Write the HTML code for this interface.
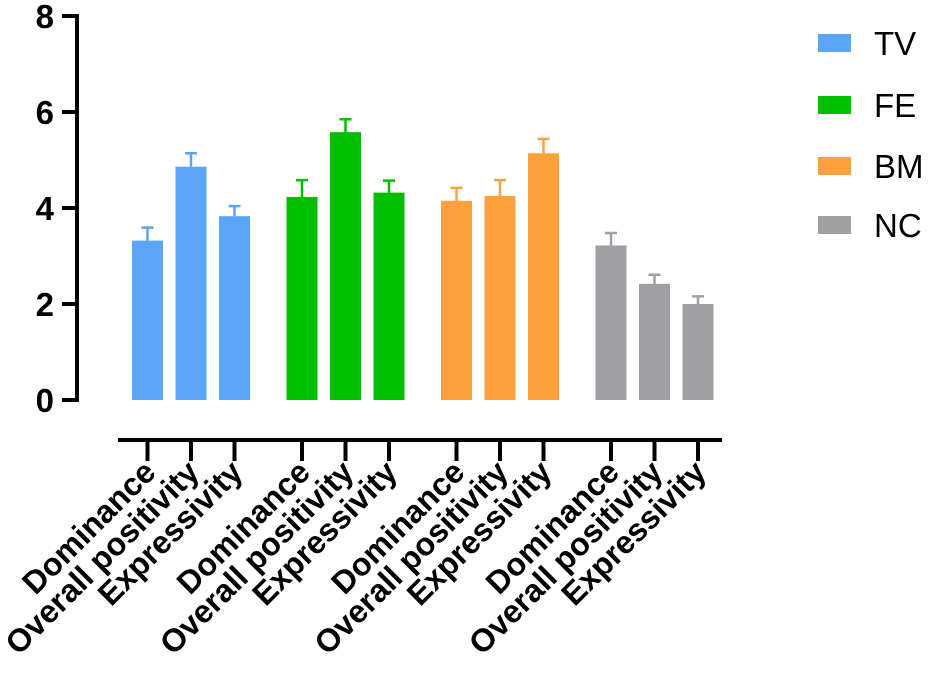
<!DOCTYPE html>
<html><head><meta charset="utf-8"><style>
body{margin:0;background:#fff;}
svg text{font-family:"Liberation Sans",Arial,sans-serif;font-weight:bold;}
</style></head><body>
<svg id="chart" width="945" height="674" xmlns="http://www.w3.org/2000/svg">
<g id="yaxis"></g>
<g id="bars"></g>
<g id="xaxis"></g>
<g id="legend"></g>
</svg>
<script>
const groups = ["TV","FE","BM","NC"];
const colors = ["#5aa5f8","#00bf00","#ffa03f","#a0a0a4"];
const measures = ["Dominance","Overall positivity","Expressivity"];
const means = [[3.32,4.86,3.83],[4.23,5.58,4.32],[4.15,4.25,5.14],[3.22,2.42,2.0]];
const errs = [[0.27,0.28,0.21],[0.35,0.27,0.25],[0.27,0.33,0.3],[0.26,0.19,0.16]];
const yTicks = [0,2,4,6,8];
const NS="http://www.w3.org/2000/svg";
function y(v){return 400-v*48;}
function bx(g,m){return 132+g*154.5+m*43.5;}
const bw=31;
function mk(t,a,p){const e=document.createElementNS(NS,t);for(const k in a)e.setAttribute(k,a[k]);p.appendChild(e);return e;}
const ya=document.getElementById('yaxis');
let l=mk('line',{x1:77,y1:14,x2:77,y2:402,stroke:'#000','stroke-width':4},ya);


yTicks.forEach(t=>{
 let tk=mk('line',{x1:62,y1:y(t),x2:77,y2:y(t),stroke:'#000','stroke-width':4},ya);
 
 
 let tx=mk('text',{x:54,y:y(t)+12,'text-anchor':'end',style:'font-size:33px'},ya);
 tx.textContent=t;
 
 
});
const bars=document.getElementById('bars');
const xa=document.getElementById('xaxis');
let xl=mk('line',{x1:118,y1:440,x2:722,y2:440,stroke:'#000','stroke-width':4},xa);


groups.forEach((g,gi)=>{
 measures.forEach((m,mi)=>{
  const x=bx(gi,mi),v=means[gi][mi],e=errs[gi][mi],c=x+bw/2;
  let r=mk('rect',{x:x,y:y(v),width:bw,height:y(0)-y(v),fill:colors[gi]},bars);
  
  
  let eb=mk('path',{d:`M${c},${y(v)}V${y(v+e)}M${c-6},${y(v+e)}H${c+6}`,stroke:colors[gi],'stroke-width':2.5,fill:'none'},bars);
  
  
  let tk=mk('line',{x1:c,y1:440,x2:c,y2:461,stroke:'#000','stroke-width':4},xa);
  
  
  let tx=mk('text',{x:c+10,y:474,'text-anchor':'end',style:'font-size:32px',transform:`rotate(-45 ${c+10} 474)`},xa);
  tx.textContent=m;
  
  
 });
});
const lg=document.getElementById('legend');
const ly=[43,105,166,225];
groups.forEach((g,gi)=>{
 let s=mk('rect',{x:818,y:ly[gi]-9,width:33,height:18,fill:colors[gi]},lg);
 
 
 let t=mk('text',{x:874,y:ly[gi]+12,style:'font-size:33px;font-weight:normal'},lg);
 t.textContent=g;
 
 
});
</script>
</body></html>
